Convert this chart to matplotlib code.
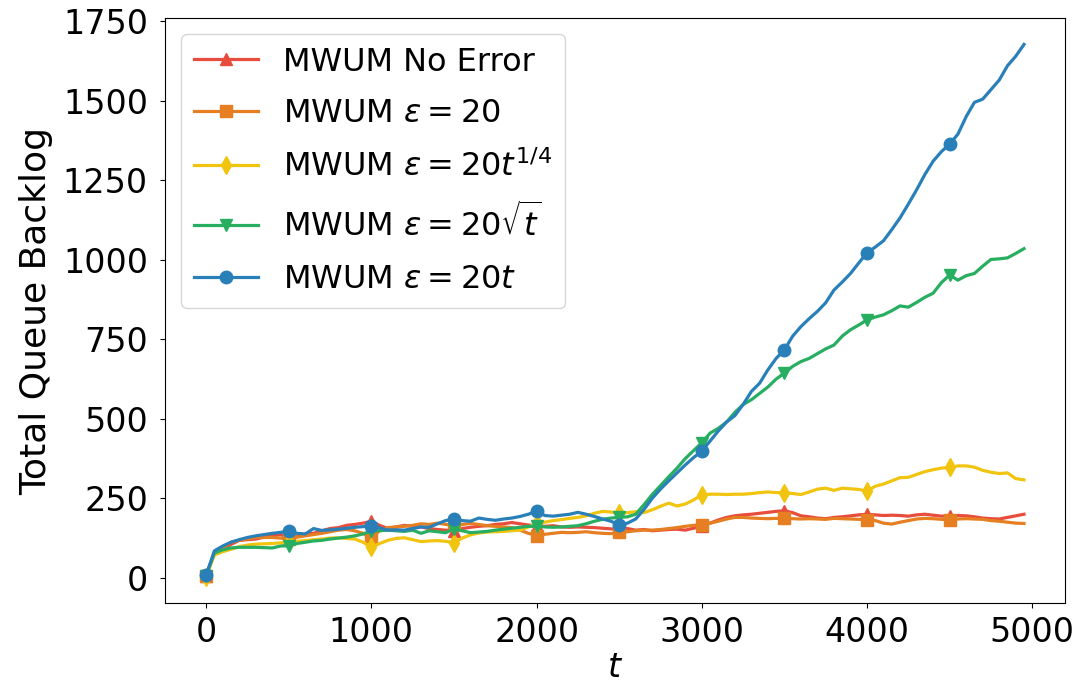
import numpy as np
import matplotlib
matplotlib.use('Agg')
import matplotlib.pyplot as plt

# time steps (every 50 slots)
t = np.arange(0, 5000, 50)

no_error = [6, 80, 92, 105, 118, 120, 122, 128, 132, 136,
            128, 130, 138, 140, 148, 155, 158, 165, 168, 172,
            178, 165, 155, 160, 165, 162, 160, 155, 152, 150,
            148, 155, 159, 162, 164, 168, 170, 174, 170, 166,
            164, 162, 164, 160, 159, 160, 159, 158, 156, 154,
            153, 155, 150, 152, 148, 150, 152, 153, 150, 156,
            164, 172, 182, 190, 195, 198, 200, 203, 206, 209,
            211, 205, 195, 192, 188, 186, 190, 192, 195, 198,
            200, 198, 196, 197, 196, 194, 198, 200, 197, 194,
            195, 196, 195, 192, 188, 186, 185, 190, 195, 200]

eps_const = [5, 78, 95, 112, 118, 122, 127, 127, 127, 125,
             122, 128, 132, 136, 140, 145, 150, 152, 148, 140,
             125, 148, 158, 160, 162, 165, 170, 168, 172, 168,
             165, 168, 171, 168, 164, 162, 160, 158, 150, 140,
             133, 137, 140, 143, 142, 143, 145, 142, 140, 139,
             143, 145, 148, 150, 150, 152, 155, 158, 162, 165,
             167, 172, 178, 185, 190, 190, 188, 187, 186, 187,
             187, 186, 185, 186, 185, 184, 187, 186, 185, 184,
             182, 180, 172, 169, 175, 180, 185, 187, 186, 184,
             183, 185, 186, 185, 184, 180, 178, 175, 172, 171]

eps_quarter = [4, 72, 82, 90, 98, 103, 106, 107, 108, 110,
               112, 115, 117, 120, 122, 125, 126, 124, 122, 112,
               96, 108, 118, 124, 126, 120, 114, 116, 117, 115,
               110, 125, 135, 141, 144, 145, 146, 148, 150, 160,
               171, 175, 180, 183, 187, 190, 195, 203, 209, 207,
               204, 205, 208, 205, 214, 225, 235, 226, 232, 245,
               261, 263, 263, 262, 263, 263, 265, 268, 270, 268,
               268, 265, 262, 270, 279, 282, 275, 282, 280, 278,
               273, 288, 295, 305, 315, 316, 325, 334, 340, 345,
               347, 352, 352, 348, 338, 332, 328, 330, 312, 308]

eps_sqrt = [7, 78, 88, 94, 96, 96, 96, 95, 94, 100,
            101, 108, 112, 116, 118, 122, 125, 128, 132, 138,
            148, 148, 150, 148, 146, 150, 140, 148, 145, 142,
            155, 148, 142, 144, 146, 150, 153, 156, 159, 162,
            162, 160, 159, 160, 162, 164, 170, 178, 184, 188,
            190, 192, 200, 230, 262, 290, 318, 345, 375, 400,
            425, 455, 470, 490, 520, 545, 560, 580, 600, 625,
            644, 665, 680, 690, 705, 720, 732, 760, 780, 795,
            811, 820, 827, 840, 855, 851, 866, 882, 895, 928,
            952, 936, 950, 957, 980, 1001, 1003, 1006, 1020, 1035]

eps_linear = [8, 85, 100, 112, 120, 127, 132, 136, 140, 143,
              146, 140, 138, 155, 149, 151, 153, 156, 159, 161,
              164, 157, 150, 151, 150, 155, 160, 159, 170, 180,
              185, 180, 178, 188, 184, 181, 185, 188, 193, 200,
              209, 196, 194, 197, 200, 206, 200, 193, 185, 178,
              167, 172, 185, 215, 250, 279, 305, 330, 355, 378,
              399, 430, 462, 490, 510, 545, 586, 612, 654, 690,
              717, 760, 790, 815, 838, 865, 905, 930, 957, 990,
              1022, 1040, 1060, 1095, 1132, 1175, 1220, 1268, 1310, 1340,
              1364, 1395, 1450, 1495, 1505, 1535, 1565, 1610, 1640, 1677]

labels = ['MWUM No Error',
          r'MWUM $\varepsilon=20$',
          r'MWUM $\varepsilon=20t^{1/4}$',
          r'MWUM $\varepsilon=20\sqrt{t}$',
          r'MWUM $\varepsilon=20t$']
colors = ['#e74c3c', '#e67e22', '#f1c40f', '#27ae60', '#2980b9']
markers = ['^', 's', 'd', 'v', 'o']

fig = plt.figure(figsize=(10.8, 6.87), dpi=100)
ax = fig.add_axes([0.153, 0.122, 0.833, 0.852])

series = [no_error, eps_const, eps_quarter, eps_sqrt, eps_linear]
for y, lab, c, m in zip(series, labels, colors, markers):
    ax.plot(t, y, label=lab, color=c, marker=m, markevery=10,
            linewidth=2.3, markersize=9)

ax.set_yticks([0, 250, 500, 750, 1000, 1250, 1500, 1750])
ax.set_xticks([0, 1000, 2000, 3000, 4000, 5000])
ax.tick_params(axis='both', labelsize=24)
ax.tick_params(axis='y', pad=9)
ax.tick_params(axis='x', pad=6)
ax.set_xlabel('$t$', fontsize=24, labelpad=1)
ax.set_ylabel('Total Queue Backlog', fontsize=26, labelpad=7)
ax.legend(loc='upper left', fontsize=23, labelspacing=0.65)

fig.savefig('out.png', dpi=100)
